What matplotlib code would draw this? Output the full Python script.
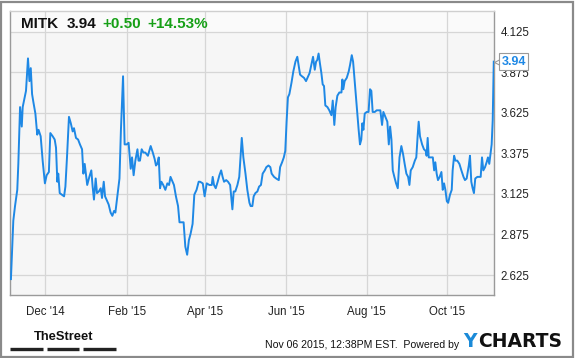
import numpy as np
import matplotlib
matplotlib.use("Agg")
import matplotlib.pyplot as plt
import matplotlib.dates as mdates
from matplotlib.patches import Rectangle
from matplotlib.lines import Line2D
import matplotlib.transforms as mtransforms

# ---- data ----
ticker = "MITK"
last_price = 3.94
change = "+0.50"
change_pct = "+14.53%"
timestamp = "Nov 06 2015, 12:38PM EST."
base_date = "2014-12-01"

# days relative to 2014-12-01
days = [-26.0, -24.2, -22.9, -21.2, -20.4, -19.1, -17.8, -17.1, -16.1, -14.6,
        -13.1, -12.0, -11.0, -10.0, -9.0, -7.5, -6.1, -5.1, -3.5, -2.0,
        -0.3, 1.0, 2.7, 3.8, 5.6, 7.1, 8.1, 9.1, 9.8, 10.9,
        12.6, 14.2, 15.2, 16.4, 17.9, 19.3, 20.7, 21.7, 23.2, 24.8,
        26.2, 27.8, 28.8, 29.8, 30.8, 31.7, 33.3, 34.8, 35.8, 36.8,
        38.1, 39.1, 40.5, 41.9, 42.9, 44.2, 45.2, 46.3, 47.9, 49.4,
        50.7, 52.0, 53.0, 54.5, 56.1, 57.2, 58.8, 60.0, 61.6, 63.0,
        64.6, 65.6, 66.8, 68.1, 69.7, 70.5, 71.6, 72.9, 74.2, 75.6,
        77.6, 79.7, 81.3, 82.7, 83.7, 84.7, 85.8, 86.8, 87.8, 89.2,
        90.8, 92.3, 93.6, 94.7, 96.3, 97.3, 98.8, 100.4, 101.5, 103.1,
        104.6, 105.9, 107.3, 108.6, 109.9, 111.4, 112.7, 114.4, 116.0,
        117.0, 119.1, 120.5, 122.1, 124.1, 125.9, 126.6, 127.6, 128.9, 130.4,
        131.7, 133.0, 134.1, 135.2, 136.8, 138.2, 139.8, 140.8, 141.5, 142.5,
        143.7, 145.3, 146.7, 148.6, 149.8, 151.4, 152.8, 154.4, 155.3, 156.6,
        157.6, 158.9, 160.4, 161.7, 163.1, 164.4, 166.0, 167.2, 168.8, 170.2,
        171.2, 173.0, 174.6, 176.6, 177.6, 179.1, 180.4, 181.5, 182.5, 183.5,
        184.6, 186.2, 187.6, 189.2, 190.6, 191.7, 192.7, 194.1, 195.7, 197.2,
        198.8, 199.9, 201.2, 202.5, 203.8, 204.8, 205.7, 206.7, 207.7, 208.8,
        209.8, 210.8, 211.8, 213.4, 214.8, 216.4, 217.4, 218.6, 219.6, 220.9,
        222.4, 224.0, 224.7, 225.4, 226.4, 228.0, 229.5, 230.5, 231.8, 232.8,
        233.8, 235.0, 236.0, 237.0, 238.0, 239.0, 239.8, 240.6, 241.6, 243.1,
        244.5, 245.6, 246.6, 247.6, 249.2, 250.6, 252.2, 253.4, 254.7, 255.7,
        256.7, 257.7, 258.7, 259.8, 260.8, 261.8, 262.8, 264.0, 265.3, 266.6,
        267.9, 269.3, 270.6, 271.8, 273.1, 274.4, 275.4, 276.4, 277.9, 279.5,
        280.6, 281.6, 282.4, 283.4, 285.0, 286.4, 287.7, 288.4, 289.2, 290.0,
        291.5, 293.1, 294.1, 295.0, 296.0, 297.0, 298.3, 299.6, 300.6, 301.6,
        302.6, 303.7, 304.7, 306.1, 307.4, 308.1, 309.2, 310.2, 311.6, 313.2,
        314.7, 316.3, 317.4, 318.7, 320.3, 321.2, 322.2, 323.2, 324.2, 325.2,
        326.8, 328.3, 329.3, 330.3, 331.3, 332.6, 333.8, 334.8, 335.8, 336.7,
        337.6, 338.4, 339.2]

prices = [2.60, 2.96, 3.05, 3.15, 3.31, 3.66, 3.54, 3.66, 3.70, 3.76,
          3.96, 3.82, 3.90, 3.74, 3.69, 3.62, 3.49, 3.52, 3.48, 3.33,
          3.19, 3.24, 3.26, 3.50, 3.48, 3.46, 3.41, 3.20, 3.25, 3.13,
          3.12, 3.11, 3.17, 3.35, 3.60, 3.56, 3.51, 3.53, 3.47, 3.46,
          3.43, 3.40, 3.25, 3.31, 3.24, 3.18, 3.23, 3.27, 3.17, 3.09,
          3.22, 3.13, 3.14, 3.16, 3.10, 3.20, 3.11, 3.09, 3.06, 3.01,
          2.99, 3.02, 3.01, 3.11, 3.22, 3.52, 3.85, 3.43, 3.43, 3.44,
          3.28, 3.35, 3.24, 3.33, 3.40, 3.33, 3.33, 3.40, 3.38, 3.38,
          3.36, 3.42, 3.38, 3.34, 3.30, 3.31, 3.35, 3.16, 3.20, 3.18,
          3.15, 3.19, 3.18, 3.23, 3.20, 3.18, 3.11, 3.05, 2.95, 2.95,
          2.95, 2.80, 2.75, 2.84, 2.88, 2.94, 3.12, 3.15, 3.20,
          3.20, 3.19, 3.11, 3.19, 3.18, 3.18, 3.23, 3.18, 3.16, 3.20,
          3.24, 3.27, 3.23, 3.20, 3.21, 3.20, 3.18, 3.09, 3.03, 3.14,
          3.14, 3.18, 3.23, 3.47, 3.35, 3.25, 3.15, 3.07, 3.05, 3.05,
          3.11, 3.13, 3.14, 3.17, 3.18, 3.25, 3.27, 3.29, 3.30, 3.29,
          3.25, 3.23, 3.22, 3.21, 3.29, 3.32, 3.35, 3.39, 3.57, 3.72,
          3.74, 3.81, 3.88, 3.94, 3.97, 3.91, 3.86, 3.85, 3.84, 3.82,
          3.85, 3.87, 3.92, 3.97, 3.89, 3.94, 3.95, 3.99, 3.93, 3.87,
          3.80, 3.79, 3.67, 3.66, 3.64, 3.61, 3.70, 3.55, 3.66, 3.73,
          3.75, 3.75, 3.83, 3.77, 3.82, 3.84, 3.88, 3.92, 3.98, 3.94,
          3.84, 3.72, 3.62, 3.52, 3.43, 3.46, 3.56, 3.52, 3.62, 3.63,
          3.63, 3.77, 3.76, 3.63, 3.63, 3.64, 3.64, 3.64, 3.55, 3.63,
          3.61, 3.59, 3.57, 3.43, 3.54, 3.46, 3.27, 3.23, 3.19, 3.16,
          3.35, 3.42, 3.37, 3.31, 3.25, 3.23, 3.18, 3.27, 3.29, 3.33,
          3.35, 3.48, 3.57, 3.48, 3.43, 3.40, 3.39, 3.36, 3.47, 3.35,
          3.35, 3.35, 3.27, 3.32, 3.25, 3.21, 3.23, 3.26, 3.15, 3.19,
          3.15, 3.08, 3.07, 3.12, 3.15, 3.27, 3.36, 3.33, 3.33, 3.31,
          3.27, 3.23, 3.21, 3.22, 3.30, 3.36, 3.20, 3.16, 3.13, 3.22,
          3.23, 3.23, 3.23, 3.35, 3.27, 3.29, 3.32, 3.35, 3.31, 3.37,
          3.43, 3.58, 3.94]

y_ticks = [2.625, 2.875, 3.125, 3.375, 3.625, 3.875, 4.125]
x_tick_months = [12, 2, 4, 6, 8, 10]

# ---- style ----
LINE = "#1e88e5"
GREEN = "#17a017"
W, H = 575, 358
fig = plt.figure(figsize=(W / 100, H / 100), dpi=100)
fig.patch.set_facecolor("white")

ax = fig.add_axes([10 / W, 1 - 295 / H, 484.3 / W, (295 - 10.7) / H])
ax.set_facecolor("#f6f6f6")

base = mdates.date2num(np.datetime64(base_date))
x = base + np.array(days)
ax.plot(x, prices, color=LINE, lw=1.4, solid_joinstyle="round", zorder=3)

ax.set_xlim(base - 26.7, base + 339.6)
ax.set_ylim(2.502, 4.254)

ax.xaxis.set_major_locator(mdates.MonthLocator(bymonth=x_tick_months))
ax.xaxis.set_major_formatter(mdates.DateFormatter("%b '%y"))
ax.set_yticks(y_ticks)
ax.yaxis.set_major_formatter(plt.FormatStrFormatter("%.3f"))
ax.yaxis.tick_right()
ax.tick_params(axis="both", length=0, labelsize=8.3, colors="#222222",
               labelfontfamily="Liberation Sans")
ax.tick_params(axis="x", pad=8)
ax.tick_params(axis="y", pad=4.5)
ax.grid(True, color="#d6d6d6", lw=0.9, zorder=0)
for s in ax.spines.values():
    s.set_color("#9a9a9a")
    s.set_linewidth(1.0)
ax.spines["top"].set_color("#cfcfcf")

# lighter header band
ax.axhspan(4.125, 4.254, color="white", alpha=0.45, zorder=1, lw=0)

# header text
hdr_y = 1 - 24 / H
fig.text(21.5 / W, hdr_y, ticker, fontsize=11, fontweight="bold", color="#111111",
         va="center", family="Liberation Sans")
fig.text(66.5 / W, hdr_y, f"{last_price:.2f}", fontsize=11, fontweight="bold",
         color="#111111", va="center", family="Liberation Sans")
fig.text(102.5 / W, hdr_y, change, fontsize=11, fontweight="bold", color=GREEN,
         va="center", family="Liberation Sans")
fig.text(147.5 / W, hdr_y, change_pct, fontsize=11, fontweight="bold", color=GREEN,
         va="center", family="Liberation Sans")

# last price callout
trans = mtransforms.blended_transform_factory(ax.transAxes, ax.transData)
ax.text(1.0 + 7 / 484.3, prices[-1], f"{last_price:.2f}", transform=trans,
        fontsize=9, fontweight="bold", color=LINE, va="center", ha="left",
        family="Liberation Sans", clip_on=False, zorder=6,
        bbox=dict(boxstyle="square,pad=0.2", fc="white", ec="#9a9a9a", lw=0.8))
ax.plot([1.0 + 4 / 484.3], [prices[-1]], marker="<", ms=6, mfc="white",
        mec="#9a9a9a", mew=0.8, transform=trans, clip_on=False, zorder=5)

# footer
fig.text(63.5 / W, 1 - 336.5 / H, "TheStreet", fontsize=9.3, fontweight="bold",
         color="#111111", ha="center", va="center", family="Liberation Sans")
for x0, x1 in [(10, 42.7), (46.7, 79.3), (83.3, 116)]:
    fig.add_artist(Line2D([x0 / W, x1 / W], [1 - 349 / H] * 2, color="#222222",
                          lw=2.4, solid_capstyle="butt"))
fig.text(265 / W, 1 - 345.5 / H, timestamp + "  Powered by", fontsize=7.6,
         color="#111111", va="center", ha="left", family="Liberation Sans")
fig.text(463 / W, 1 - 341.5 / H, "Y", fontsize=13.5, fontweight="bold",
         color="#1a8ad8", va="center", ha="left", family="DejaVu Sans")
fig.text(478 / W, 1 - 341.5 / H, "CHARTS", fontsize=13.5, fontweight="bold",
         color="#111111", va="center", ha="left", family="DejaVu Sans")

# outer border
fig.add_artist(Rectangle((1 / W, 1.5 / H), (W - 3) / W, (H - 3.5) / H,
                         transform=fig.transFigure, fill=False, ec="#8a8a8a", lw=1.6))

fig.savefig("out.png", dpi=100, facecolor="white")
